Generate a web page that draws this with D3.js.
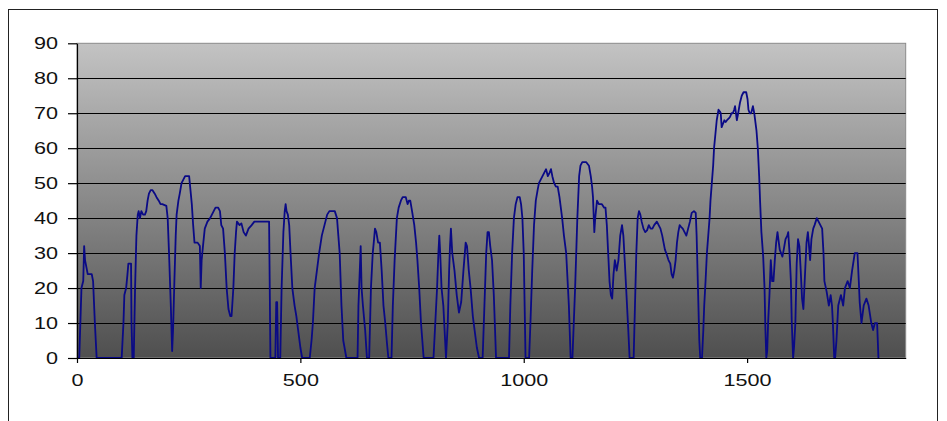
<!DOCTYPE html>
<html><head><meta charset="utf-8">
<script src="https://cdn.jsdelivr.net/npm/d3@7"></script>
<style>html,body{margin:0;padding:0;background:#fff;} svg{display:block}</style>
</head><body>
<svg id="chart" width="947" height="421"></svg>
<script>
// ---- data ----
const xTicks = [0, 500, 1000, 1500];
const yTicks = [0, 10, 20, 30, 40, 50, 60, 70, 80, 90];
const xDomain = [0, 1855];
const yDomain = [0, 90];
// [time (s), speed]
const speedTrace = [
[0,0],[5,0],[8,12],[10,20],[14,22],[16,32],[18,28],[21,26],[24,24],[33,24],[36,22],[40,10],[44,0],
[100,0],[104,10],[106,18],[110,20],[113,24],[115,27],[121,27],[122,10],[124,0],[127,0],[130,20],[133,35],[136,41],[138,42],[141,40],[144,42],[148,41],[152,41],[155,42],[158,45],[161,47],[165,48],[169,48],[174,47],[178,46],[183,45],[187,44],[191,44],[200,43.5],[203,40],[206,30],[210,15],[213,2],[215,8],[218,22],[221,35],[223,41],[227,45],[230,47],[234,50],[238,51],[242,52],[247,52],[251,52],[254,48],[257,44],[260,38],[263,33],[270,33],[275,32],[277,20],[279,28],[282,32],[286,37],[292,39],[298,40],[302,41],[306,42],[310,43],[316,43],[320,42],[323,38],[327,37],[331,30],[335,20],[339,14],[343,12],[346,12],[350,20],[353,30],[356,36],[358,39],[364,38],[368,38.5],[373,36],[378,35],[384,37],[391,38],[397,39],[402,39],[430,39],[433,0],
[444,0],[446,16],[448,16],[450,0],[455,0],[458,20],[462,36],[465,42],[467,44],[469,42],[472,41],[475,38],[478,30],[482,20],[487,15],[491,12],[495,8],[500,3],[504,0],
[521,0],[525,5],[528,10],[532,20],[537,25],[542,30],[548,35],[554,38],[560,41],[565,42],[577,42],[582,40],[585,35],[588,30],[592,15],[596,5],[603,0],
[628,0],[630,15],[633,25],[635,32],[637,20],[640,15],[645,8],[649,0],[654,0],[658,20],[662,30],[665,34],[667,37],[670,36],[674,33],[678,33],[682,25],[686,15],[690,10],[694,4],[697,0],
[704,0],[707,15],[711,28],[716,40],[720,43],[725,45],[729,46],[733,46],[736,46],[740,44],[743,45],[746,45],[750,42],[755,38],[759,33],[762,28],[766,20],[770,10],[776,0],
[798,0],[802,10],[806,20],[809,30],[811,35],[813,30],[816,20],[820,15],[824,5],[826,0],[830,10],[833,25],[835,32],[837,37],[840,30],[845,25],[850,18],[855,13],[860,16],[865,25],[870,33],[873,32],[877,25],[881,20],[886,12],[890,8],[895,3],[900,0],
[908,0],[912,15],[916,30],[919,36],[922,36],[925,32],[929,28],[933,18],[938,0],
[967,0],[970,15],[974,30],[978,40],[982,44],[986,46],[991,46],[994,44],[997,40],[1000,30],[1002,15],[1004,0],
[1012,0],[1015,10],[1019,25],[1023,38],[1027,45],[1031,48],[1034,50],[1038,51],[1042,52],[1046,53],[1050,54],[1054,52],[1058,53],[1061,54],[1064,52],[1068,50],[1072,49],[1076,49],[1080,46],[1086,40],[1090,35],[1095,30],[1099,20],[1101,15],[1105,0],
[1109,0],[1112,10],[1115,20],[1118,32],[1120,40],[1124,52],[1127,55],[1131,56],[1140,56],[1146,55],[1150,52],[1153,49],[1155,46],[1158,36],[1160,40],[1164,45],[1168,44],[1175,44],[1180,43],[1183,43],[1186,38],[1189,30],[1192,22],[1195,18],[1198,17],[1201,24],[1204,28],[1208,25],[1212,28],[1216,35],[1220,38],[1223,35],[1226,28],[1230,18],[1234,8],[1237,0],
[1246,0],[1249,15],[1252,30],[1255,40],[1258,42],[1261,41],[1264,39],[1268,37],[1272,36],[1276,36.5],[1280,38],[1284,37],[1288,37],[1292,38],[1298,39],[1302,38],[1306,37],[1310,35],[1313,33],[1316,31],[1319,30],[1324,28],[1328,27],[1331,24],[1334,23],[1337,25],[1340,28],[1343,33],[1346,36],[1349,38],[1352,37.5],[1356,37],[1360,36],[1364,35],[1368,37],[1372,39],[1376,41.5],[1381,42],[1385,41.5],[1387,35],[1390,20],[1393,5],[1395,0],
[1399,0],[1402,8],[1404,15],[1407,22],[1410,30],[1413,35],[1416,40],[1418,45],[1421,50],[1424,55],[1426,60],[1429,64],[1432,68],[1436,71],[1439,70.5],[1441,70],[1443,66],[1446,67],[1449,68],[1452,67.5],[1455,68],[1459,68.5],[1462,69],[1465,70],[1468,70],[1471,71],[1473,72],[1475,70],[1477,68],[1480,70],[1484,73],[1488,75],[1492,76],[1498,76],[1501,74],[1503,71],[1506,70],[1509,70],[1513,72],[1516,70],[1518,68],[1521,65],[1524,60],[1527,52],[1529,45],[1532,36],[1536,29],[1539,20],[1541,8],[1543,0],
[1545,2],[1547,10],[1550,18],[1553,28],[1556,22],[1559,22],[1562,28],[1565,33],[1568,36],[1571,33],[1573,31],[1576,30],[1579,29],[1582,31],[1586,34],[1590,35],[1592,36],[1595,30],[1598,22],[1600,10],[1603,0],
[1605,3],[1608,10],[1611,27],[1614,34],[1617,32],[1620,25],[1623,17],[1626,14],[1630,25],[1633,33],[1636,36],[1638,33],[1641,28],[1644,34],[1648,37],[1651,38],[1656,40],[1660,39],[1664,38],[1668,37],[1671,30],[1673,22],[1678,19],[1683,15],[1687,18],[1690,15],[1692,10],[1695,0],[1697,0],
[1700,5],[1704,15],[1710,18],[1715,15],[1719,20],[1725,22],[1730,20],[1735,25],[1741,30],[1747,30],[1750,22],[1752,16],[1756,10],[1761,15],[1767,17],[1772,15],[1778,10],[1782,8],[1786,10],[1791,10],[1794,0]
];

// ---- chart ----
const svg = d3.select("#chart");
const plot = {left: 77, right: 905.7, top: 43.3, bottom: 358};
const x = d3.scaleLinear().domain(xDomain).range([plot.left, plot.right]);
const y = d3.scaleLinear().domain(yDomain).range([plot.bottom, plot.top]);

// outer frame
svg.append("rect").attr("x", 8.5).attr("y", 9.5).attr("width", 929).attr("height", 430)
  .attr("fill", "#fff").attr("stroke", "#222").attr("stroke-width", 1);

const defs = svg.append("defs");
const grad = defs.append("linearGradient").attr("id", "bg").attr("x1", 0).attr("y1", 0).attr("x2", 0).attr("y2", 1);
grad.append("stop").attr("offset", "0%").attr("stop-color", "#c3c3c3");
grad.append("stop").attr("offset", "100%").attr("stop-color", "#4f4f4f");

svg.append("rect").attr("x", plot.left).attr("y", plot.top)
  .attr("width", plot.right - plot.left).attr("height", plot.bottom - plot.top)
  .attr("fill", "url(#bg)").attr("stroke", "#8a8a8a").attr("stroke-width", 1);

// gridlines
svg.append("g").selectAll("line").data(yTicks.filter(d => d > 0 && d < 90)).join("line")
  .attr("x1", plot.left).attr("x2", plot.right)
  .attr("y1", d => Math.round(y(d)) + 0.5).attr("y2", d => Math.round(y(d)) + 0.5)
  .attr("stroke", "#000").attr("stroke-width", 1.2);

// line
const line = d3.line().x(d => x(d[0])).y(d => y(d[1]));
svg.append("path").datum(speedTrace).attr("d", line)
  .attr("fill", "none").attr("stroke", "#0a0a86").attr("stroke-width", 1.8)
  .attr("stroke-linejoin", "round");

const SX = 1.35;
// y axis
const gy = svg.append("g").attr("transform", `translate(${plot.left},0)`)
  .call(d3.axisLeft(y).tickValues(yTicks).tickFormat(d3.format("d")).tickSize(9).tickSizeOuter(0).tickPadding(10));
gy.select(".domain").attr("stroke", "#000").attr("stroke-width", 1.2);
gy.selectAll(".tick line").attr("stroke", "#000").attr("stroke-width", 1.2);
gy.selectAll(".tick text").each(function() {
  const t = d3.select(this); const tx = +t.attr("x");
  t.attr("x", 0).attr("transform", `translate(${tx},0) scale(${SX},1)`);
}).attr("font-family", "Liberation Sans, Arial, sans-serif").attr("font-size", 16).attr("fill", "#111");

// x axis
const gx = svg.append("g").attr("transform", `translate(0,${plot.bottom})`)
  .call(d3.axisBottom(x).tickValues(xTicks).tickFormat(d3.format("d")).tickSize(5).tickSizeOuter(0).tickPadding(12));
gx.select(".domain").attr("stroke", "#000").attr("stroke-width", 1.2);
gx.selectAll(".tick line").attr("stroke", "#000").attr("stroke-width", 1.2);
gx.selectAll(".tick text").attr("transform", `scale(${SX},1)`)
  .attr("font-family", "Liberation Sans, Arial, sans-serif").attr("font-size", 16).attr("fill", "#111");
</script>
</body></html>
